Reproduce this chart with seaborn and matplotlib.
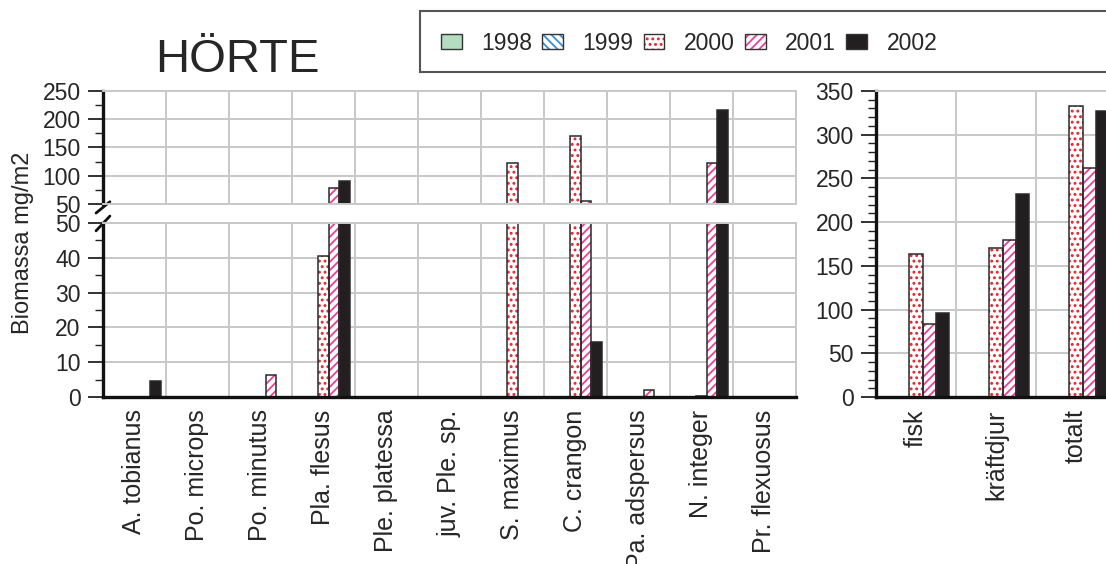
import numpy as np
import pandas as pd
import seaborn as sns
import matplotlib.pyplot as plt
from matplotlib.patches import Patch, Rectangle
from matplotlib.legend_handler import HandlerTuple
from matplotlib.ticker import MultipleLocator

# data (Biomassa mg/m2)
arter = ['A. tobianus', 'Po. microps', 'Po. minutus', 'Pla. flesus', 'Ple. platessa',
         'juv. Ple. sp.', 'S. maximus', 'C. crangon', 'Pa. adspersus', 'N. integer', 'Pr. flexuosus']
ar = ['1998', '1999', '2000', '2001', '2002']
b1998 = [0, 0, 0, 0, 0, 0, 0, 0, 0, 0, 0]
b1999 = [0, 0, 0, 0, 0, 0, 0, 0, 0, 0, 0]
b2000 = [0, 0, 0, 40.5, 0, 0, 123, 170, 0, 0.3, 0]
b2001 = [0, 0, 6.2, 78, 0, 0, 0, 55, 1.9, 122.5, 0]
b2002 = [4.5, 0, 0, 91, 0, 0, 0, 15.7, 0, 216, 0]

grupper = ['fisk', 'kräftdjur', 'totalt']
t1998 = [0, 0, 0]
t1999 = [0, 0, 0]
t2000 = [163, 170, 333]
t2001 = [83, 179.5, 262]
t2002 = [96, 232, 327]

df_art = pd.DataFrame({'art': arter * 5, 'ar': np.repeat(ar, len(arter)),
                       'v': b1998 + b1999 + b2000 + b2001 + b2002})
df_tot = pd.DataFrame({'art': grupper * 5, 'ar': np.repeat(ar, len(grupper)),
                       'v': t1998 + t1999 + t2000 + t2001 + t2002})

# style per year: facecolor, hatch, hatch colour
fc = {'1998': '#b3dcc0', '1999': 'white', '2000': 'white', '2001': 'white', '2002': '#231f20'}
hatch = {'1998': '', '1999': '\\\\\\\\', '2000': '...', '2001': '////', '2002': ''}
hc = {'1998': '#333333', '1999': '#3a8fd0', '2000': '#e8202a', '2001': '#e8409a', '2002': '#231f20'}

sns.set_theme(style='white')
plt.rcParams['font.family'] = ['Liberation Sans', 'DejaVu Sans']
plt.rcParams['hatch.linewidth'] = 1.3

fig = plt.figure(figsize=(11.06, 5.64), dpi=100)
ax_top = fig.add_axes([0.0931, 0.6383, 0.6266, 0.2004])
ax_bot = fig.add_axes([0.0931, 0.2961, 0.6266, 0.3085])
ax_r = fig.add_axes([0.7920, 0.2961, 0.2170, 0.5426])


def rita(ax, data):
    sns.barplot(data=data, x='art', y='v', hue='ar', hue_order=ar, palette=fc,
                width=5 / 6, errorbar=None, saturation=1, legend=False, ax=ax)
    for yr, cont in zip(ar, ax.containers):
        for p in cont:
            p.set_hatch(hatch[yr])
            p.set_edgecolor(hc[yr])
            p.set_linewidth(0)
            ax.add_patch(Rectangle(p.get_xy(), p.get_width(), p.get_height(),
                                   fill=False, ec='#2a2a2a', lw=1.1, zorder=p.get_zorder() + 0.1))
    n = data['art'].nunique()
    ax.set_xlim(-0.5, n - 0.5)
    ax.set_xticks(np.arange(-0.5, n), minor=True)
    ax.grid(True, which='minor', axis='x', color='#c8c8c8', lw=1.4)
    ax.grid(True, which='major', axis='y', color='#c8c8c8', lw=1.4)
    ax.set_axisbelow(True)
    ax.set_xlabel('')
    ax.set_ylabel('')
    ax.tick_params(axis='x', which='both', length=0, pad=9, labelsize=18, labelrotation=90)
    ax.tick_params(axis='y', which='major', direction='out', length=11, width=1.3,
                   color='#222222', labelsize=16.5, pad=5, left=True)
    ax.tick_params(axis='y', which='minor', direction='out', length=5.5, width=1.0,
                   color='#222222', left=True)
    for s in ['top', 'right']:
        ax.spines[s].set_color('#c8c8c8')
        ax.spines[s].set_linewidth(1.4)
    for s in ['left', 'bottom']:
        ax.spines[s].set_color('#111111')
        ax.spines[s].set_linewidth(2.4)


rita(ax_top, df_art)
rita(ax_bot, df_art)
rita(ax_r, df_tot)

ax_top.set_ylim(50, 250)
ax_top.yaxis.set_major_locator(MultipleLocator(50))
ax_top.yaxis.set_minor_locator(MultipleLocator(25))
ax_top.set_xticklabels([])
ax_top.spines['bottom'].set_color('#c8c8c8')
ax_top.spines['bottom'].set_linewidth(1.4)

ax_bot.set_ylim(0, 50)
ax_bot.yaxis.set_major_locator(MultipleLocator(10))
ax_bot.yaxis.set_minor_locator(MultipleLocator(5))

ax_r.set_ylim(0, 350)
ax_r.yaxis.set_major_locator(MultipleLocator(50))
ax_r.yaxis.set_minor_locator(MultipleLocator(10))

# axis break marks
ax_top.plot([-0.010, 0.010], [-0.08, 0.02], transform=ax_top.transAxes,
            color='#111111', lw=2.0, clip_on=False)
ax_bot.plot([-0.010, 0.010], [0.955, 1.04], transform=ax_bot.transAxes,
            color='#111111', lw=2.0, clip_on=False)

fig.text(0.021, 1 - 243 / 564, 'Biomassa mg/m2', rotation=90, ha='center', va='center', fontsize=17)
fig.text(0.215, 0.894, 'HÖRTE', ha='center', va='center', fontsize=34)

# legend with its own frame (the frame runs off the right edge)
fig.patches.append(Rectangle((420 / 1106, 1 - 72 / 564), 0.7, 61 / 564, transform=fig.transFigure,
                             fill=True, fc='white', ec='#555555', lw=1.5))
handles = [(Patch(facecolor=fc[y], edgecolor=hc[y], hatch=hatch[y], lw=0),
            Patch(fill=False, edgecolor='#333333', lw=1.0)) for y in ar]
fig.legend(handles, ar, ncol=5, loc='center left', bbox_to_anchor=(418 / 1106, 1 - 43 / 564),
           handler_map={tuple: HandlerTuple(ndivide=1, pad=0)},
           fontsize=16.5, handlelength=0.9, handleheight=0.6, handletextpad=0.85,
           columnspacing=0.45, borderpad=0.5, frameon=False)

fig.savefig('out.png', dpi=100)
